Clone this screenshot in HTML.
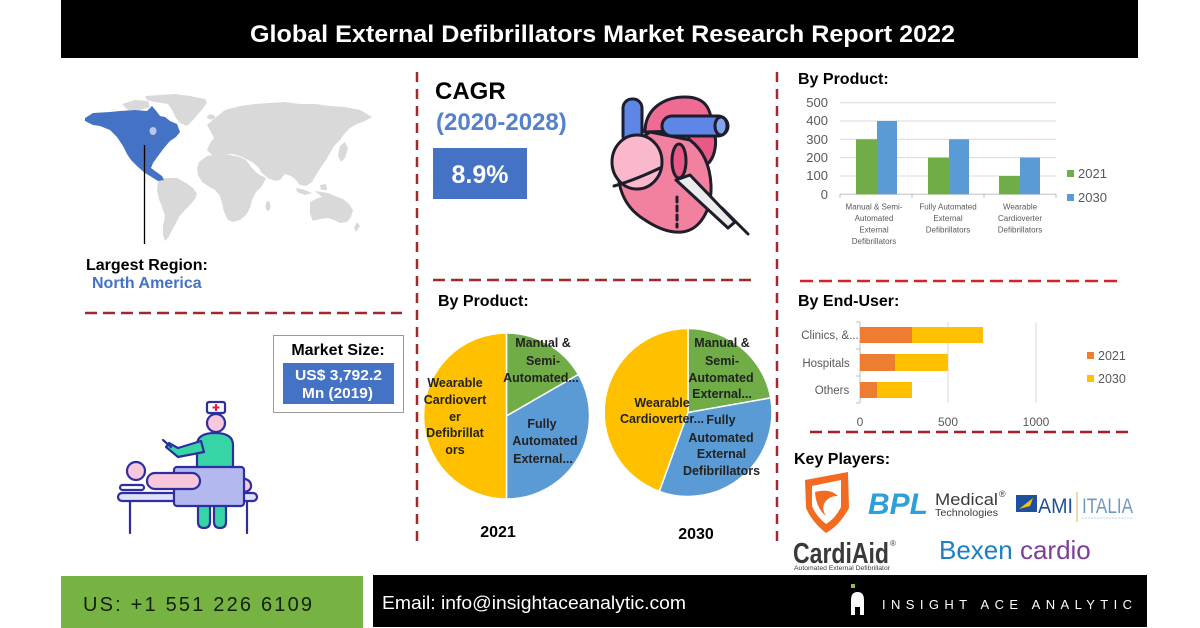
<!DOCTYPE html>
<html><head><meta charset="utf-8"><style>
html,body{margin:0;padding:0;background:#fff;}
svg{display:block;}
text{font-family:"Liberation Sans",Arial,sans-serif;}
</style></head><body>
<svg width="1200" height="628" viewBox="0 0 1200 628" xmlns="http://www.w3.org/2000/svg">
<rect width="1200" height="628" fill="#fff"/>
<!-- Title -->
<rect x="61" y="0" width="1077" height="58" fill="#000"/>
<text x="250" y="42" font-size="24" font-weight="bold" fill="#fff" textLength="705" lengthAdjust="spacingAndGlyphs">Global External Defibrillators Market Research Report 2022</text>

<!-- dashed dividers -->
<g fill="none" stroke-width="2.5">
<line x1="417" y1="72" x2="417" y2="546" stroke="#a3282d" stroke-dasharray="10 7"/>
<line x1="777" y1="72" x2="777" y2="546" stroke="#a3282d" stroke-dasharray="10 7"/>
<line x1="85" y1="313" x2="402" y2="313" stroke="#a3282d" stroke-dasharray="12 6"/>
<line x1="433" y1="280" x2="752" y2="280" stroke="#a3282d" stroke-dasharray="12 6"/>
<line x1="800" y1="281" x2="1118" y2="281" stroke="#d8222a" stroke-dasharray="13 6"/>
<line x1="810" y1="432" x2="1128" y2="432" stroke="#a51f24" stroke-dasharray="12 6"/>
</g>

<!-- World map -->
<g fill="#d9d9d9">
<polygon points="145,96 160,95 175,94 190,96 205,99 207,103 200,112 193,120 187,126 180,123 176,118 172,110 168,104 155,102 147,100"/>
<polygon points="122,104 135,100 148,101 150,107 140,110 128,110"/>
<ellipse cx="211" cy="117" rx="4" ry="2.5"/>
<polygon points="207,125 215,118 225,110 240,106 255,104 270,103 285,102 300,104 315,104 330,106 345,107 360,110 372,117 365,121 357,124 350,128 345,133 340,140 334,146 330,153 326,160 321,167 316,175 312,182 306,186 300,185 296,180 291,176 285,174 280,180 275,181 268,178 262,173 258,167 252,162 246,159 240,156 232,154 224,155 218,157 212,155 207,150 210,143 214,138 211,132"/>
<polygon points="199,162 207,156 218,154 230,155 240,157 246,160 252,168 258,174 266,178 262,186 256,192 252,200 250,208 246,215 240,220 233,222 228,220 224,212 222,203 220,196 215,190 208,186 202,182 198,175 197,168"/>
<ellipse cx="268" cy="206" rx="2.5" ry="5"/>
<polygon points="158,180 166,178 177,178 186,183 193,188 197,194 195,199 190,205 184,211 179,217 175,225 171,232 168,238 165,241 163,235 163,226 165,216 162,207 159,199 157,190"/>
<polygon points="296,188 305,190 312,193 305,195 297,192"/>
<polygon points="315,191 328,193 335,196 322,197"/>
<polygon points="320,185 326,184 327,190 321,190"/>
<polygon points="340,146 345,142 348,148 345,158 341,162 338,156"/>
<polygon points="310,202 318,198 327,196 335,196 343,199 349,204 353,210 351,217 347,222 340,223 334,220 328,218 320,219 313,221 310,214"/>
<polygon points="357,222 360,226 356,232 354,228"/>
</g>
<polygon fill="#4472c4" points="85,118 93,113 110,112 120,111 135,110 147,111 152,106 157,112 160,116 165,117 170,121 177,124 180,132 176,137 170,141 164,148 158,156 153,163 151,168 155,171 162,176 164,180 158,181 150,176 145,173 138,167 131,160 127,154 123,146 117,137 110,130 100,126 93,125 85,121"/>
<ellipse cx="153" cy="131" rx="3.5" ry="4" fill="#b9c8e8"/>
<line x1="144.5" y1="145" x2="144.5" y2="244" stroke="#000" stroke-width="1.3"/>
<text x="86" y="270" font-size="16" font-weight="bold" fill="#000">Largest Region:</text>
<text x="92" y="288" font-size="16" font-weight="bold" fill="#4472c4">North America</text>

<!-- CAGR -->
<text x="435" y="99" font-size="24" font-weight="bold" fill="#000">CAGR</text>
<text x="436" y="130" font-size="24" font-weight="bold" fill="#5580cc">(2020-2028)</text>
<rect x="433" y="148" width="94" height="51" fill="#4472c4"/>
<text x="480" y="183" font-size="25" font-weight="bold" fill="#fff" text-anchor="middle">8.9%</text>

<!-- Heart icon -->
<g stroke="#1d1d2b" stroke-width="3" stroke-linejoin="round" stroke-linecap="round">
<rect x="623" y="99" width="19" height="46" rx="9" fill="#5d86e6"/>
<path d="M645 132 C645 108 665 97 685 97 C705 97 712 108 712 130 Z" fill="#f06b93"/>
<path d="M688 128 L714 130 C718 145 714 160 706 165 L690 160 Z" fill="#e85a85"/>
<path d="M624 150 C612 175 620 205 645 220 C660 230 672 233 682 232 C700 230 712 210 711 185 C710 165 703 150 690 140 L650 132 Z" fill="#f2809f"/>
<ellipse cx="637" cy="162" rx="25" ry="27" fill="#f9b9cb"/>
<rect x="662" y="116" width="66" height="20" rx="10" fill="#5d86e6"/>
<ellipse cx="721" cy="126" rx="6" ry="9" fill="#85a4f0"/>
<ellipse cx="679" cy="161" rx="7" ry="17" fill="#e85a85"/>
<path d="M614 186 Q635 180 660 168" fill="none"/>
<line x1="677" y1="197" x2="677" y2="227" stroke-dasharray="5 4"/>
<path d="M676 180 L690 175 L735 222 L728 228 Z" fill="#ececec"/>
<line x1="722" y1="208" x2="748" y2="234"/>
</g>

<!-- Market size -->
<rect x="273.5" y="335.5" width="130" height="77" fill="#fff" stroke="#9a9a9a" stroke-width="1"/>
<text x="338" y="355" font-size="16" font-weight="bold" fill="#000" text-anchor="middle">Market Size:</text>
<rect x="283" y="363" width="111" height="41" fill="#4472c4"/>
<text x="295" y="380" font-size="14.5" font-weight="bold" fill="#fff" textLength="87" lengthAdjust="spacingAndGlyphs">US$  3,792.2</text>
<text x="302" y="398" font-size="14.5" font-weight="bold" fill="#fff" textLength="71" lengthAdjust="spacingAndGlyphs">Mn (2019)</text>

<!-- Doctor illustration -->
<g stroke="#2e2ea0" stroke-width="2.2" stroke-linejoin="round" stroke-linecap="round">
<line x1="130" y1="501" x2="130" y2="533"/>
<line x1="247" y1="501" x2="247" y2="533"/>
<path d="M198 505 L198 522 Q198 528 204 528 Q210 528 210 522 L210 505" fill="#37d5a6"/>
<path d="M214 505 L214 522 Q214 528 220 528 Q226 528 226 522 L226 505" fill="#37d5a6"/>
<rect x="118" y="493" width="139" height="8" rx="4" fill="#dfe1f8"/>
<path d="M197 468 L197 445 Q197 433 215 433 Q233 433 233 445 L233 468 Z" fill="#37d5a6"/>
<polygon points="201,441 178,448 169,443 166,447 178,457 204,452" fill="#37d5a6"/>
<line x1="163" y1="440" x2="171" y2="447"/>
<circle cx="216" cy="423" r="9" fill="#f7c8dc"/>
<rect x="207" y="402" width="18" height="11" rx="2" fill="#fff"/>
<circle cx="136" cy="471" r="9" fill="#f7c8dc"/>
<rect x="120" y="485" width="24" height="5" rx="2.5" fill="#fff"/>
<path d="M242 478 Q252 480 251 487 Q250 492 242 492" fill="#f7c8dc"/>
<rect x="174" y="467" width="70" height="39" rx="3" fill="#b3b8ef"/>
<rect x="147" y="473" width="53" height="16" rx="8" fill="#f7c8dc"/>
</g>
<path d="M216 404 L216 411 M212.5 407.5 L219.5 407.5" stroke="#d23" stroke-width="2"/>

<!-- Pies -->
<text x="438" y="306" font-size="16" font-weight="bold" fill="#000">By Product:</text>
<g stroke="#fff" stroke-width="1.5">
<path d="M506.5 416 L506.5 333 A83 83 0 0 1 578.4 374.5 Z" fill="#70ad47"/>
<path d="M506.5 416 L578.4 374.5 A83 83 0 0 1 506.5 499 Z" fill="#5b9bd5"/>
<path d="M506.5 416 L506.5 499 A83 83 0 0 1 506.5 333 Z" fill="#ffc000"/>
<path d="M688 412.5 L688 328.5 A84 84 0 0 1 770.7 397.9 Z" fill="#70ad47"/>
<path d="M688 412.5 L770.7 397.9 A84 84 0 0 1 659.3 491.4 Z" fill="#5b9bd5"/>
<path d="M688 412.5 L659.3 491.4 A84 84 0 0 1 688 328.5 Z" fill="#ffc000"/>
</g>
<g font-size="12.5" font-weight="bold" fill="#222" text-anchor="middle">
<text x="543" y="347">Manual &amp;</text>
<text x="543" y="365">Semi-</text>
<text x="541" y="382">Automated...</text>
<text x="455" y="387">Wearable</text>
<text x="455" y="404">Cardiovert</text>
<text x="455" y="421">er</text>
<text x="455" y="437">Defibrillat</text>
<text x="455" y="454">ors</text>
<text x="542" y="428">Fully</text>
<text x="545" y="445">Automated</text>
<text x="543" y="463">External...</text>
<text x="722" y="347">Manual &amp;</text>
<text x="722" y="365">Semi-</text>
<text x="721" y="382">Automated</text>
<text x="722" y="398">External...</text>
<text x="662" y="407">Wearable</text>
<text x="662" y="423">Cardioverter...</text>
<text x="721" y="424">Fully</text>
<text x="721" y="442">Automated</text>
<text x="721.5" y="458">External</text>
<text x="721.5" y="475">Defibrillators</text>
</g>
<text x="498" y="537" font-size="16" font-weight="bold" fill="#000" text-anchor="middle">2021</text>
<text x="696" y="539" font-size="16" font-weight="bold" fill="#000" text-anchor="middle">2030</text>

<!-- Top-right bar chart -->
<text x="798" y="84" font-size="16" font-weight="bold" fill="#000">By Product:</text>
<g stroke="#d9d9d9" stroke-width="1">
<line x1="840" y1="102.7" x2="1056" y2="102.7"/>
<line x1="840" y1="121" x2="1056" y2="121"/>
<line x1="840" y1="139.3" x2="1056" y2="139.3"/>
<line x1="840" y1="157.6" x2="1056" y2="157.6"/>
<line x1="840" y1="176" x2="1056" y2="176"/>
</g>
<g stroke="#bfbfbf" stroke-width="1">
<line x1="840" y1="194.3" x2="1056" y2="194.3"/>
<line x1="840" y1="194" x2="840" y2="198"/>
<line x1="912" y1="194" x2="912" y2="198"/>
<line x1="984" y1="194" x2="984" y2="198"/>
<line x1="1056" y1="194" x2="1056" y2="198"/>
</g>
<rect x="856" y="139.3" width="21" height="55" fill="#70ad47"/>
<rect x="877" y="121" width="20" height="73.3" fill="#5b9bd5"/>
<rect x="928" y="157.6" width="21" height="36.7" fill="#70ad47"/>
<rect x="949" y="139.3" width="20" height="55" fill="#5b9bd5"/>
<rect x="999" y="176" width="21" height="18.3" fill="#70ad47"/>
<rect x="1020" y="157.6" width="20" height="36.7" fill="#5b9bd5"/>
<g font-size="13" fill="#595959" text-anchor="end">
<text x="828" y="107">500</text>
<text x="828" y="125">400</text>
<text x="828" y="144">300</text>
<text x="828" y="162">200</text>
<text x="828" y="180">100</text>
<text x="828" y="199">0</text>
</g>
<g font-size="8" fill="#595959" text-anchor="middle">
<text x="874" y="209.5">Manual &amp; Semi-</text>
<text x="874" y="221">Automated</text>
<text x="874" y="232.5">External</text>
<text x="874" y="244">Defibrillators</text>
<text x="948" y="209.5">Fully Automated</text>
<text x="948" y="221">External</text>
<text x="948" y="232.5">Defibrillators</text>
<text x="1020" y="209.5">Wearable</text>
<text x="1020" y="221">Cardioverter</text>
<text x="1020" y="232.5">Defibrillators</text>
</g>
<rect x="1067" y="170" width="7" height="7" fill="#70ad47"/>
<text x="1078" y="178" font-size="13" fill="#595959">2021</text>
<rect x="1067" y="194" width="7" height="7" fill="#5b9bd5"/>
<text x="1078" y="202" font-size="13" fill="#595959">2030</text>

<!-- End-user chart -->
<text x="798" y="306" font-size="16" font-weight="bold" fill="#000">By End-User:</text>
<g stroke="#d9d9d9" stroke-width="1">
<line x1="948" y1="322" x2="948" y2="403"/>
<line x1="1036" y1="322" x2="1036" y2="403"/>
</g>
<g stroke="#bfbfbf" stroke-width="1">
<line x1="860" y1="322" x2="860" y2="403"/>
<line x1="856" y1="322" x2="860" y2="322"/>
<line x1="856" y1="349" x2="860" y2="349"/>
<line x1="856" y1="376" x2="860" y2="376"/>
<line x1="856" y1="403" x2="860" y2="403"/>
</g>
<rect x="860" y="327" width="52" height="16" fill="#ed7d31"/>
<rect x="912" y="327" width="71" height="16" fill="#ffc000"/>
<rect x="860" y="354" width="35" height="17" fill="#ed7d31"/>
<rect x="895" y="354" width="53" height="17" fill="#ffc000"/>
<rect x="860" y="382" width="17" height="16" fill="#ed7d31"/>
<rect x="877" y="382" width="35" height="16" fill="#ffc000"/>
<g font-size="11.5" fill="#595959" text-anchor="middle">
<text x="830" y="339">Clinics, &amp;...</text>
<text x="826" y="367">Hospitals</text>
<text x="832" y="394">Others</text>
</g>
<g font-size="12" fill="#595959" text-anchor="middle">
<text x="860" y="426">0</text>
<text x="948" y="426">500</text>
<text x="1036" y="426">1000</text>
</g>
<rect x="1087" y="352" width="7" height="7" fill="#ed7d31"/>
<text x="1098" y="360" font-size="12.5" fill="#595959">2021</text>
<rect x="1087" y="375" width="7" height="7" fill="#ffc000"/>
<text x="1098" y="383" font-size="12.5" fill="#595959">2030</text>

<!-- Key players -->
<text x="794" y="464" font-size="16" font-weight="bold" fill="#000">Key Players:</text>
<path d="M805 480 L848 472 L849 508 Q840 525 826 533 Q812 522 806 508 Z" fill="#f26b21"/>
<path d="M812 486 L841 480 L841 507 Q835 519 826 524 Q816 516 812 506 Z" fill="#fff"/>
<path d="M815 492 Q830 488 838 496 Q828 496 824 504 Q822 510 826 516 Q816 508 815 492 Z" fill="#f26b21"/>
<text x="868" y="514" font-size="30" font-weight="bold" font-style="italic" fill="#2f9fd9" textLength="60" lengthAdjust="spacingAndGlyphs">BPL</text>
<text x="935" y="505" font-size="17" fill="#3b3b3b" textLength="63" lengthAdjust="spacingAndGlyphs">Medical</text>
<text x="999" y="497" font-size="9" fill="#3b3b3b">®</text>
<text x="935" y="516" font-size="10.5" fill="#3b3b3b" textLength="63" lengthAdjust="spacingAndGlyphs">Technologies</text>
<rect x="1016" y="495" width="21" height="17" fill="#1f4f9f"/>
<path d="M1019 509 L1033 498 L1030 506 Z" fill="#f2c500"/>
<text x="1038" y="513" font-size="21" fill="#1f4f9f" textLength="35" lengthAdjust="spacingAndGlyphs">AMI</text>
<line x1="1077" y1="492" x2="1077" y2="522" stroke="#d4b85a" stroke-width="1"/>
<text x="1082" y="513" font-size="21" fill="#7098c6" textLength="51" lengthAdjust="spacingAndGlyphs">ITALIA</text>
<line x1="1082" y1="518" x2="1132" y2="518" stroke="#c8d2de" stroke-width="1" stroke-dasharray="2 1"/>
<text x="793" y="563" font-size="29" font-weight="bold" fill="#3a3a3a" textLength="96" lengthAdjust="spacingAndGlyphs">CardiAid</text>
<text x="890" y="546" font-size="8" fill="#3a3a3a">®</text>
<text x="794" y="570" font-size="6" fill="#3a3a3a" textLength="96" lengthAdjust="spacingAndGlyphs">Automated External Defibrillator</text>
<text x="939" y="559" font-size="26" fill="#1b7fc4">Bexen <tspan fill="#7b3f98">cardio</tspan></text>

<!-- Footer -->
<rect x="61" y="576" width="302" height="52" fill="#77b343"/>
<text x="83" y="611" font-size="20" fill="#13200a" textLength="229" lengthAdjust="spacing">US: +1 551 226 6109</text>
<rect x="373" y="575" width="774" height="52" fill="#000"/>
<text x="382" y="609" font-size="18" fill="#fff" textLength="304" lengthAdjust="spacingAndGlyphs">Email: info@insightaceanalytic.com</text>
<rect x="851" y="584" width="4" height="4" fill="#8bc34a"/>
<path d="M851 615 L851 600 Q851 592 857.5 592 Q864 592 864 600 L864 615 L860 615 L860 607 L855 607 L855 615 Z" fill="#fff"/>
<text x="882" y="609" font-size="13" fill="#fff" textLength="250" lengthAdjust="spacing">INSIGHT ACE ANALYTIC</text>
</svg>
</body></html>
